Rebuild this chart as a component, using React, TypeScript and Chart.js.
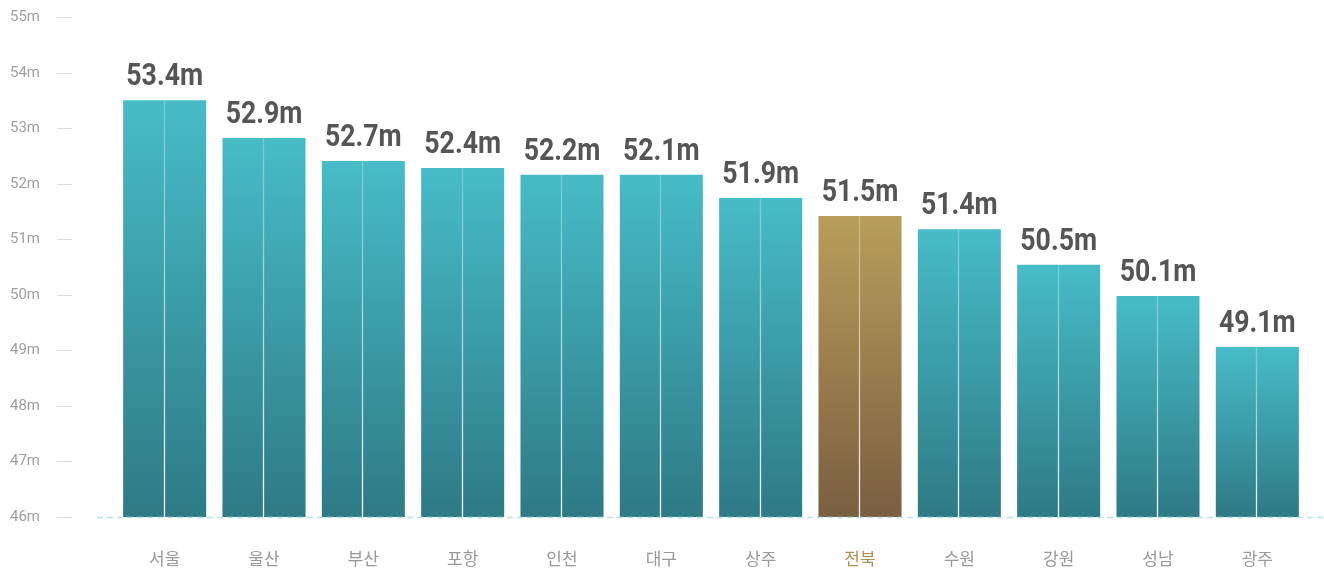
import React, { useEffect, useRef } from "react";
import { Chart, registerables } from "chart.js";

Chart.register(...registerables);

const categories = ["서울", "울산", "부산", "포항", "인천", "대구", "상주", "전북", "수원", "강원", "성남", "광주"];
const barValues = [53.5, 52.82, 52.41, 52.28, 52.16, 52.16, 51.74, 51.42, 51.18, 50.54, 49.98, 49.06];
const valueLabels = ["53.4m", "52.9m", "52.7m", "52.4m", "52.2m", "52.1m", "51.9m", "51.5m", "51.4m", "50.5m", "50.1m", "49.1m"];
const yTicks = [46, 47, 48, 49, 50, 51, 52, 53, 54, 55];
const highlightIndex = 7;

const TEAL_TOP = "#47BCC7";
const TEAL_BOTTOM = "#2E7A85";
const GOLD_TOP = "#B89E5B";
const GOLD_BOTTOM = "#7A5E41";

const decorPlugin = {
  id: "decor",
  beforeDatasetsDraw(chart: any) {
    const ctx = chart.ctx;
    const y = chart.scales.y;
    ctx.save();
    ctx.font = '400 15px Roboto, "DejaVu Sans", sans-serif';
    ctx.fillStyle = "#a0a0a0";
    ctx.textAlign = "right";
    ctx.textBaseline = "middle";
    yTicks.forEach((t) => {
      const py = Math.round(y.getPixelForValue(t));
      ctx.fillText(t + "m", 40, py);
      ctx.strokeStyle = "#dddddd";
      ctx.lineWidth = 1;
      ctx.beginPath();
      ctx.moveTo(57, py + 0.5);
      ctx.lineTo(72, py + 0.5);
      ctx.stroke();
    });
    ctx.restore();
  },
  afterDatasetsDraw(chart: any) {
    const ctx = chart.ctx;
    const y = chart.scales.y;
    const meta = chart.getDatasetMeta(0);
    const base = Math.round(y.getPixelForValue(46));
    ctx.save();
    ctx.strokeStyle = "#b8e4e9";
    ctx.lineWidth = 1.5;
    ctx.setLineDash([6, 4]);
    ctx.beginPath();
    ctx.moveTo(97, base + 0.5);
    ctx.lineTo(1324, base + 0.5);
    ctx.stroke();
    ctx.setLineDash([]);
    meta.data.forEach((bar: any, i: number) => {
      const top = bar.y;
      const x = Math.round(bar.x) - 0.5;
      const g = ctx.createLinearGradient(0, top, 0, base);
      g.addColorStop(0, "rgba(255,255,255,0.25)");
      g.addColorStop(1, "rgba(255,255,255,0.95)");
      ctx.strokeStyle = g;
      ctx.lineWidth = 1.3;
      ctx.beginPath();
      ctx.moveTo(x, top);
      ctx.lineTo(x, base);
      ctx.stroke();
      ctx.save();
      ctx.translate(bar.x, top - 15);
      ctx.scale(0.86, 1);
      ctx.font = 'bold 31px Roboto, "Liberation Sans", sans-serif';
      ctx.fillStyle = "#555555";
      ctx.textAlign = "center";
      ctx.textBaseline = "alphabetic";
      ctx.fillText(valueLabels[i], 0, 0);
      ctx.restore();
    });
    ctx.restore();
  },
};

export default function App() {
  const ref = useRef<HTMLCanvasElement | null>(null);
  useEffect(() => {
    if (!ref.current) return;
    const chart = new Chart(ref.current, {
      type: "bar",
      data: {
        labels: categories,
        datasets: [
          {
            data: barValues,
            base: 46,
            borderWidth: 0,
            categoryPercentage: 1,
            barPercentage: 0.836,
            backgroundColor: (c: any) => {
              const ch = c.chart;
              const ys = ch.scales.y;
              const i = c.dataIndex;
              const hi = i === highlightIndex;
              if (!ys || !ch.chartArea || i === undefined) return hi ? GOLD_TOP : TEAL_TOP;
              const top = ys.getPixelForValue(barValues[i]);
              const bottom = ys.getPixelForValue(46);
              if (!isFinite(top) || !isFinite(bottom) || top === bottom) return hi ? GOLD_TOP : TEAL_TOP;
              const g = ch.ctx.createLinearGradient(0, top, 0, bottom);
              g.addColorStop(0, hi ? GOLD_TOP : TEAL_TOP);
              g.addColorStop(1, hi ? GOLD_BOTTOM : TEAL_BOTTOM);
              return g;
            },
          } as any,
        ],
      },
      options: {
        responsive: false,
        animation: false,
        layout: { padding: { left: 115, right: 17, top: 17, bottom: 0 } },
        plugins: { legend: { display: false }, tooltip: { enabled: false } },
        scales: {
          y: { display: false, min: 46, max: 55 },
          x: {
            grid: { display: false, drawTicks: false },
            border: { display: false },
            ticks: {
              padding: 31,
              font: { family: '"Noto Sans CJK KR", sans-serif', size: 17 },
              color: (c: any) => (c.index === highlightIndex ? "#B0904F" : "#999999"),
            },
            afterFit: (s: any) => {
              s.height = 58;
            },
          },
        },
      },
      plugins: [decorPlugin],
    });
    return () => chart.destroy();
  }, []);
  return (
    <div style={{ position: "fixed", left: 0, top: 0, width: 1324, height: 575, background: "#fff" }}>
      <canvas ref={ref} width={1324} height={575} />
    </div>
  );
}
